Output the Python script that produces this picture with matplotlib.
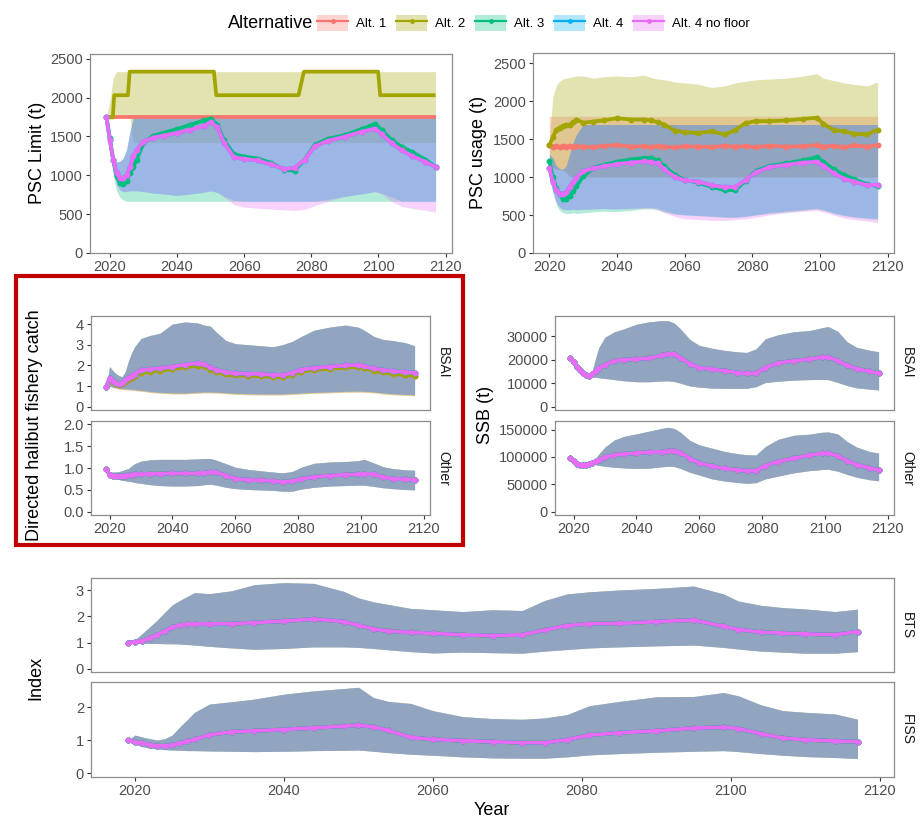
import matplotlib
matplotlib.use("Agg")
import matplotlib.pyplot as plt
from matplotlib.patches import Patch, Rectangle
from matplotlib.lines import Line2D
from matplotlib.legend_handler import HandlerTuple

plt.rcParams['font.family'] = ['Liberation Sans', 'DejaVu Sans']

# --- DATA ---
ALTS = ['Alt. 1', 'Alt. 2', 'Alt. 3', 'Alt. 4', 'Alt. 4 no floor']
COLORS = ['#F8766D', '#A3A500', '#00BF7D', '#00B0F6', '#E76BF3']

YEARS = [2019, 2020, 2021, 2022, 2023, 2024, 2025, 2026, 2027, 2028,
         2030, 2033, 2036, 2040, 2044, 2048, 2050, 2052, 2054, 2057,
         2060, 2064, 2068, 2072, 2075, 2078, 2081, 2085, 2090, 2095,
         2099, 2101, 2104, 2107, 2110, 2114, 2117]
USE_YEARS = YEARS[1:]
XTICKS = [2020, 2040, 2060, 2080, 2100, 2120]

# PSC limit (t)
lim_alt1 = [1745] * 37
lim_alt2_years = [2019, 2020.9, 2021.3, 2025.4, 2025.9, 2051.0, 2051.7, 2076.2, 2077.8, 2099.9, 2100.5, 2117]
lim_alt2_vals = [1745, 1745, 2030, 2030, 2333, 2333, 2030, 2030, 2333, 2333, 2030, 2030]
lim_alt2_lo = [1745] * 8 + [1420] * 29
lim_alt2_hi = [1745, 1950, 2250] + [2333] * 34
lim_upper = [1745, 1480, 1230, 1170, 1180, 1220, 1330, 1560] + [1745] * 29
lim_alt3 = [1745, 1477, 1200, 987, 903, 885, 920, 1030, 1110, 1200,
            1413, 1510, 1545, 1595, 1650, 1705, 1730, 1650, 1450, 1270,
            1240, 1215, 1160, 1070, 1060, 1200, 1393, 1470, 1515, 1595,
            1660, 1580, 1450, 1365, 1300, 1200, 1110]
lim_alt3_lo = [1745, 1350, 1000, 800, 720, 680] + [665] * 31
lim_alt4_lo = [1745, 1400, 1050, 880, 810, 790, 790, 800, 800, 800,
               790, 770, 760, 740, 760, 780, 800, 780, 730, 680,
               665, 665, 665, 665, 665, 665, 665, 690, 730, 760,
               790, 770, 720, 665, 665, 665, 665]
lim_alt4nf = [1745, 1455, 1200, 1030, 966, 960, 1000, 1100, 1243, 1330,
              1434, 1485, 1510, 1545, 1583, 1635, 1680, 1620, 1420, 1230,
              1210, 1190, 1140, 1080, 1095, 1200, 1371, 1445, 1495, 1560,
              1600, 1530, 1410, 1320, 1250, 1170, 1110]
lim_alt4 = lim_alt4nf
lim_alt4nf_lo = [1745, 1400, 1050, 880, 810, 790, 790, 800, 800, 800,
                 790, 770, 760, 740, 760, 780, 800, 780, 720, 620,
                 590, 575, 565, 555, 548, 560, 610, 665, 730, 760,
                 790, 760, 660, 600, 575, 550, 525]

# PSC usage (t)
use_alt1 = [1420, 1400, 1410, 1395, 1405, 1400, 1410, 1395, 1405, 1400,
            1395, 1410, 1420, 1400, 1405, 1395, 1410, 1400, 1390, 1405,
            1400, 1395, 1410, 1400, 1405, 1395, 1410, 1400, 1405, 1420,
            1400, 1410, 1390, 1415, 1400, 1420]
use_alt1_lo = [1150, 1120, 1100, 1100, 1090, 1060] + [1000] * 30
use_alt1_hi = [1800] * 36
use_alt2 = [1420, 1520, 1620, 1650, 1670, 1680, 1690, 1720, 1756, 1715,
            1730, 1745, 1775, 1756, 1756, 1745, 1720, 1690, 1610, 1590,
            1580, 1600, 1560, 1620, 1710, 1735, 1735, 1745, 1765, 1780,
            1700, 1620, 1600, 1570, 1560, 1625]
use_alt2_lo = use_alt1_lo
use_alt2_hi = [1500, 2050, 2200, 2260, 2290, 2300, 2310, 2320, 2330, 2330,
               2300, 2320, 2330, 2320, 2340, 2310, 2290, 2280, 2250, 2240,
               2220, 2180, 2200, 2240, 2260, 2280, 2290, 2300, 2330, 2360,
               2300, 2270, 2240, 2220, 2200, 2250]
use_upper = [1300, 1250, 1150, 1110, 1100, 1150, 1300, 1450, 1560] + [1690] * 27
use_alt3 = [1210, 1000, 860, 770, 710, 710, 750, 810, 880, 1010,
            1120, 1160, 1200, 1230, 1250, 1250, 1220, 1140, 1030, 960,
            925, 870, 825, 830, 950, 1080, 1145, 1180, 1220, 1260,
            1200, 1100, 1030, 970, 905, 880]
use_alt3_lo = [1000, 800, 640, 560, 530, 520, 520, 530, 520, 530,
               540, 550, 545, 560, 580, 580, 570, 540, 510, 500,
               490, 480, 470, 470, 480, 500, 520, 540, 560, 580,
               560, 520, 490, 470, 450, 440]
use_alt4_lo = [1000, 810, 670, 600, 575, 570, 570, 575, 570, 575,
               580, 585, 580, 590, 600, 600, 590, 560, 520, 505,
               495, 485, 475, 475, 485, 505, 530, 555, 575, 590,
               570, 530, 500, 480, 465, 455]
use_alt4nf = [1120, 930, 830, 780, 780, 800, 870, 930, 990, 1075,
              1115, 1140, 1170, 1190, 1205, 1200, 1180, 1100, 1000, 955,
              940, 890, 865, 870, 960, 1060, 1130, 1160, 1190, 1200,
              1150, 1050, 980, 940, 890, 900]
use_alt4 = use_alt4nf
use_alt4nf_lo = [1000, 810, 670, 600, 575, 570, 570, 575, 570, 575,
                 580, 585, 580, 585, 590, 590, 570, 530, 480, 450,
                 440, 430, 430, 440, 450, 470, 500, 530, 550, 560,
                 540, 500, 460, 440, 420, 400]

# Directed halibut fishery catch
bsai_med = [0.97, 1.37, 1.25, 1.15, 1.1, 1.15, 1.28, 1.4, 1.5, 1.6,
            1.76, 1.82, 1.86, 1.94, 2.04, 2.1, 2.06, 1.9, 1.78, 1.66,
            1.61, 1.6, 1.58, 1.55, 1.52, 1.65, 1.8, 1.88, 1.94, 2.0,
            2.02, 1.95, 1.85, 1.78, 1.72, 1.67, 1.65]
bsai_alt2_med = [0.97, 1.3, 1.2, 1.1, 1.05, 1.08, 1.18, 1.3, 1.4, 1.5,
                 1.65, 1.7, 1.74, 1.82, 1.92, 1.98, 1.95, 1.8, 1.68, 1.56,
                 1.52, 1.5, 1.48, 1.45, 1.42, 1.55, 1.7, 1.78, 1.84, 1.9,
                 1.92, 1.85, 1.75, 1.66, 1.6, 1.53, 1.5]
bsai_hi = [0.97, 1.94, 1.75, 1.6, 1.5, 1.45, 1.69, 2.2, 2.6, 2.9,
           3.3, 3.45, 3.55, 4.0, 4.1, 4.05, 3.95, 3.9, 3.6, 3.2,
           3.05, 3.0, 2.95, 2.9, 3.0, 3.15, 3.4, 3.7, 3.85, 3.95,
           3.85, 3.7, 3.4, 3.25, 3.2, 3.1, 2.95]
bsai_lo = [0.97, 1.0, 0.96, 0.93, 0.9, 0.88, 0.87, 0.86, 0.85, 0.83,
           0.8, 0.74, 0.7, 0.67, 0.67, 0.7, 0.72, 0.72, 0.71, 0.68,
           0.65, 0.63, 0.62, 0.62, 0.62, 0.64, 0.67, 0.7, 0.72, 0.75,
           0.76, 0.75, 0.72, 0.67, 0.63, 0.6, 0.58]
bsai_lo_alt12 = [0.97, 0.98, 0.93, 0.89, 0.86, 0.84, 0.82, 0.81, 0.8, 0.78,
                 0.75, 0.69, 0.65, 0.62, 0.62, 0.65, 0.67, 0.67, 0.66, 0.63,
                 0.6, 0.58, 0.57, 0.57, 0.57, 0.59, 0.62, 0.65, 0.67, 0.7,
                 0.71, 0.7, 0.67, 0.62, 0.58, 0.55, 0.53]
other_med = [0.99, 0.84, 0.83, 0.82, 0.82, 0.82, 0.83, 0.84, 0.85, 0.86,
             0.86, 0.87, 0.87, 0.88, 0.88, 0.88, 0.89, 0.91, 0.9, 0.83,
             0.76, 0.73, 0.72, 0.7, 0.68, 0.7, 0.75, 0.8, 0.83, 0.85,
             0.86, 0.87, 0.86, 0.79, 0.76, 0.74, 0.73]
other_hi = [0.99, 0.92, 0.91, 0.91, 0.92, 0.94, 0.97, 0.99, 1.05, 1.1,
            1.16, 1.19, 1.2, 1.2, 1.2, 1.21, 1.22, 1.22, 1.18, 1.1,
            1.02, 0.97, 0.94, 0.91, 0.89, 0.92, 1.02, 1.11, 1.14, 1.15,
            1.17, 1.2, 1.12, 1.03, 0.99, 0.96, 0.95]
other_lo = [0.99, 0.8, 0.78, 0.76, 0.74, 0.72, 0.71, 0.7, 0.69, 0.67,
            0.65, 0.62, 0.6, 0.59, 0.59, 0.6, 0.62, 0.63, 0.61, 0.56,
            0.53, 0.51, 0.5, 0.49, 0.47, 0.47, 0.52, 0.56, 0.59, 0.6,
            0.61, 0.61, 0.58, 0.55, 0.53, 0.51, 0.5]

# SSB (t)
ssb_bsai_med = [20500, 18800, 17000, 15500, 14300, 13500, 13000, 13800, 15200, 16400,
                17800, 19500, 20000, 20200, 20500, 21800, 22400, 22300, 20800, 18200,
                16600, 15800, 15300, 14500, 14100, 14200, 16600, 18500, 19500, 20100,
                21000, 21000, 19600, 17500, 16100, 15000, 14200]
ssb_bsai_hi = [20500, 18800, 17000, 15500, 14300, 13500, 13000, 15500, 20500, 25000,
               29500, 31800, 33000, 35000, 36000, 36500, 36500, 35500, 33000, 28500,
               26000, 24800, 23900, 23300, 23000, 24500, 28800, 30500, 31800, 32300,
               33500, 34000, 32000, 27500, 25200, 24000, 23300]
ssb_bsai_lo = [20500, 18800, 17000, 15500, 14300, 13500, 13000, 12800, 12500, 12300,
               12000, 11500, 11000, 10600, 10600, 10900, 11000, 10700, 10000, 8800,
               8300, 7900, 7800, 7800, 7800, 8500, 10300, 10800, 11300, 11500,
               11600, 11500, 10300, 9000, 8000, 7500, 7100]
ssb_other_med = [98900, 92000, 88000, 85500, 85000, 86000, 87500, 89500, 92000, 94500,
                 99000, 104000, 105500, 107000, 108500, 109500, 111000, 111500, 108000, 97000,
                 89000, 83000, 79000, 76500, 74500, 75000, 84000, 91500, 97500, 103000,
                 106500, 107000, 102000, 93000, 86000, 80000, 76000]
ssb_other_hi = [98900, 92000, 88000, 85500, 85000, 86000, 87500, 91000, 97000, 105000,
                118000, 131000, 137500, 142000, 147000, 152000, 154000, 152000, 145000, 130000,
                122000, 116000, 110000, 106000, 104000, 103500, 119000, 132000, 139500, 141500,
                145000, 145500, 142000, 128000, 118000, 110000, 107000]
ssb_other_lo = [98900, 92000, 88000, 85500, 85000, 86000, 87500, 88000, 86000, 84500,
                83000, 81000, 80000, 79000, 79500, 82000, 83000, 82500, 79000, 72000,
                67000, 60000, 56000, 53500, 51800, 53000, 60000, 65000, 71000, 75000,
                77000, 77500, 74000, 68000, 63000, 58500, 56500]

# Survey index
bts_med = [1.0, 1.03, 1.08, 1.18, 1.3, 1.44, 1.58, 1.66, 1.7, 1.71,
           1.71, 1.72, 1.76, 1.82, 1.9, 1.8, 1.66, 1.52, 1.44, 1.39,
           1.35, 1.3, 1.27, 1.3, 1.48, 1.65, 1.72, 1.73, 1.8, 1.86,
           1.62, 1.5, 1.4, 1.36, 1.33, 1.3, 1.42]
bts_hi = [1.0, 1.1, 1.35, 1.6, 1.86, 2.15, 2.43, 2.6, 2.75, 2.9,
          2.86, 2.97, 3.2, 3.28, 3.25, 2.95, 2.7, 2.55, 2.45, 2.3,
          2.25, 2.18, 2.25, 2.22, 2.6, 2.85, 2.93, 3.0, 3.06, 3.15,
          2.85, 2.58, 2.42, 2.33, 2.28, 2.18, 2.27]
bts_lo = [1.0, 0.98, 0.97, 0.97, 0.97, 0.96, 0.96, 0.95, 0.93, 0.91,
          0.86, 0.8, 0.75, 0.78, 0.84, 0.84, 0.82, 0.78, 0.73, 0.66,
          0.61, 0.64, 0.62, 0.6, 0.68, 0.74, 0.8, 0.84, 0.88, 0.91,
          0.82, 0.76, 0.68, 0.64, 0.6, 0.6, 0.66]
fiss_med = [1.0, 0.95, 0.91, 0.87, 0.84, 0.83, 0.86, 0.91, 0.97, 1.03,
            1.17, 1.26, 1.29, 1.33, 1.38, 1.43, 1.46, 1.41, 1.3, 1.09,
            1.03, 0.99, 0.96, 0.93, 0.93, 1.02, 1.16, 1.23, 1.29, 1.37,
            1.4, 1.36, 1.2, 1.07, 1.02, 0.98, 0.96]
fiss_hi = [1.0, 1.16, 1.1, 1.05, 1.01, 1.05, 1.16, 1.4, 1.62, 1.85,
           2.1, 2.17, 2.25, 2.4, 2.5, 2.57, 2.61, 2.3, 2.18, 2.12,
           1.9, 1.72, 1.66, 1.64, 1.68, 1.78, 2.05, 2.18, 2.32, 2.33,
           2.45, 2.35, 2.08, 1.9, 1.85, 1.8, 1.64]
fiss_lo = [1.0, 0.88, 0.81, 0.77, 0.74, 0.72, 0.71, 0.7, 0.69, 0.69,
           0.68, 0.67, 0.66, 0.67, 0.69, 0.7, 0.71, 0.67, 0.63, 0.58,
           0.55, 0.5, 0.47, 0.46, 0.46, 0.5, 0.56, 0.6, 0.64, 0.67,
           0.69, 0.66, 0.6, 0.55, 0.51, 0.48, 0.45]

# --- FIGURA ---
W, H = 922, 822
fig = plt.figure(figsize=(W / 100, H / 100), dpi=100)

TICK_KW = dict(direction='out', length=3, width=0.8, color='#333333',
               labelsize=10.5, labelcolor='#4D4D4D', pad=2)
ALPHA = 0.3
LW = 2.7
MS = 3.2


def make_ax(x0, y0, x1, y1):
    return fig.add_axes([x0 / W, 1 - y1 / H, (x1 - x0) / W, (y1 - y0) / H])


def style(ax, xlim, ylim, yticks, show_x=True):
    ax.set_xlim(*xlim)
    ax.set_ylim(*ylim)
    ax.set_xticks(XTICKS)
    ax.set_yticks(yticks)
    for s in ax.spines.values():
        s.set_color('#8C8C8C')
        s.set_linewidth(0.9)
    ax.tick_params(**TICK_KW)
    if not show_x:
        ax.tick_params(axis='x', bottom=False, labelbottom=False)


def ribbon(ax, x, lo, hi, color):
    ax.fill_between(x, lo, hi, color=color, alpha=ALPHA, lw=0)


def line(ax, x, y, color, markers=True):
    ax.plot(x, y, color=color, lw=LW, marker='o' if markers else None,
            ms=MS, solid_capstyle='butt', zorder=3)


XLIM = (2014.1, 2121.9)

# Panel: PSC Limit
ax = make_ax(90, 54, 452, 253)
ribbon(ax, YEARS, lim_alt1, lim_alt1, COLORS[0])
ribbon(ax, YEARS, lim_alt2_lo, lim_alt2_hi, COLORS[1])
ribbon(ax, YEARS, lim_alt3_lo, lim_upper, COLORS[2])
ribbon(ax, YEARS, lim_alt4_lo, lim_upper, COLORS[3])
ribbon(ax, YEARS, lim_alt4nf_lo, lim_upper, COLORS[4])
line(ax, YEARS, lim_alt1, COLORS[0], markers=False)
line(ax, lim_alt2_years, lim_alt2_vals, COLORS[1], markers=False)
line(ax, YEARS, lim_alt3, COLORS[2])
line(ax, YEARS, lim_alt4, COLORS[3])
line(ax, YEARS, lim_alt4nf, COLORS[4])
style(ax, XLIM, (0, 2560), [0, 500, 1000, 1500, 2000, 2500])

# Panel: PSC usage
ax = make_ax(533, 53, 894, 253)
ribbon(ax, USE_YEARS, use_alt1_lo, use_alt1_hi, COLORS[0])
ribbon(ax, USE_YEARS, use_alt2_lo, use_alt2_hi, COLORS[1])
ribbon(ax, USE_YEARS, use_alt3_lo, use_upper, COLORS[2])
ribbon(ax, USE_YEARS, use_alt4_lo, use_upper, COLORS[3])
ribbon(ax, USE_YEARS, use_alt4nf_lo, use_upper, COLORS[4])
line(ax, USE_YEARS, use_alt1, COLORS[0])
line(ax, USE_YEARS, use_alt2, COLORS[1])
line(ax, USE_YEARS, use_alt3, COLORS[2])
line(ax, USE_YEARS, use_alt4, COLORS[3])
line(ax, USE_YEARS, use_alt4nf, COLORS[4])
style(ax, (2015.15, 2121.85), (0, 2632), [0, 500, 1000, 1500, 2000, 2500])


def facet_panel(box, lo_list, hi_list, med_list, ylim, yticks, strip, strip_x, show_x):
    ax = make_ax(*box)
    for lo, hi, c in zip(lo_list, hi_list, COLORS):
        ribbon(ax, YEARS, lo, hi, c)
    for med, c in zip(med_list, COLORS):
        line(ax, YEARS, med, c)
    style(ax, XLIM, ylim, yticks, show_x)
    fig.text(strip_x / W, 1 - ((box[1] + box[3]) / 2) / H, strip, rotation=-90,
             ha='center', va='center', fontsize=10, color='#1A1A1A')
    return ax


# Panel: directed halibut catch
facet_panel((91, 316, 430, 410),
            [bsai_lo_alt12, bsai_lo_alt12, bsai_lo, bsai_lo, bsai_lo],
            [bsai_hi] * 5,
            [bsai_alt2_med, bsai_alt2_med, bsai_med, bsai_med, bsai_med],
            (-0.16, 4.39), [0, 1, 2, 3, 4], 'BSAI', 443, False)
facet_panel((91, 421, 430, 515), [other_lo] * 5, [other_hi] * 5, [other_med] * 5,
            (-0.075, 2.08), [0.0, 0.5, 1.0, 1.5, 2.0], 'Other', 443, True)

# Panel: SSB
facet_panel((555, 316, 894, 410), [ssb_bsai_lo] * 5, [ssb_bsai_hi] * 5, [ssb_bsai_med] * 5,
            (-1400, 38500), [0, 10000, 20000, 30000], 'BSAI', 907, False)
facet_panel((555, 421, 894, 515), [ssb_other_lo] * 5, [ssb_other_hi] * 5, [ssb_other_med] * 5,
            (-6000, 165600), [0, 50000, 100000, 150000], 'Other', 907, True)

# Panel: Index
facet_panel((91, 578, 894, 672), [bts_lo] * 5, [bts_hi] * 5, [bts_med] * 5,
            (-0.114, 3.456), [0, 1, 2, 3], 'BTS', 907, False)
facet_panel((91, 682, 894, 777), [fiss_lo] * 5, [fiss_hi] * 5, [fiss_med] * 5,
            (-0.11, 2.77), [0, 1, 2], 'FISS', 907, True)

# Axis titles
TITLE_KW = dict(fontsize=13, color='black', ha='center', va='center')
fig.text(37 / W, 1 - 153 / H, 'PSC Limit (t)', rotation=90, **TITLE_KW)
fig.text(478 / W, 1 - 152 / H, 'PSC usage (t)', rotation=90, **TITLE_KW)
fig.text(35 / W, 1 - 425 / H, 'Directed halibut fishery catch', rotation=90, **TITLE_KW)
fig.text(485 / W, 1 - 415 / H, 'SSB (t)', rotation=90, **TITLE_KW)
fig.text(36 / W, 1 - 678 / H, 'Index', rotation=90, **TITLE_KW)
fig.text(492 / W, 1 - 810 / H, 'Year', **TITLE_KW)

# Legend
fig.text(228 / W, 1 - 23 / H, 'Alternative', fontsize=13, ha='left', va='center')
handles = [(Patch(facecolor=c, alpha=ALPHA, edgecolor='none'),
            Line2D([], [], color=c, lw=1.6, marker='o', ms=2.5)) for c in COLORS]
fig.legend(handles, ALTS, handler_map={tuple: HandlerTuple(ndivide=1)},
           loc='center left', bbox_to_anchor=(317 / W, 1 - 23 / H), ncol=5,
           frameon=False, fontsize=9.5, handlelength=2.35, handleheight=1.6,
           handletextpad=0.6, columnspacing=0.75, borderpad=0, borderaxespad=0)

# Red highlight box
fig.patches.append(Rectangle((16 / W, 1 - 545 / H), (463 - 16) / W, (545 - 276) / H,
                             transform=fig.transFigure, fill=False,
                             edgecolor='#C00000', lw=3))

fig.savefig('out.png', dpi=100)
